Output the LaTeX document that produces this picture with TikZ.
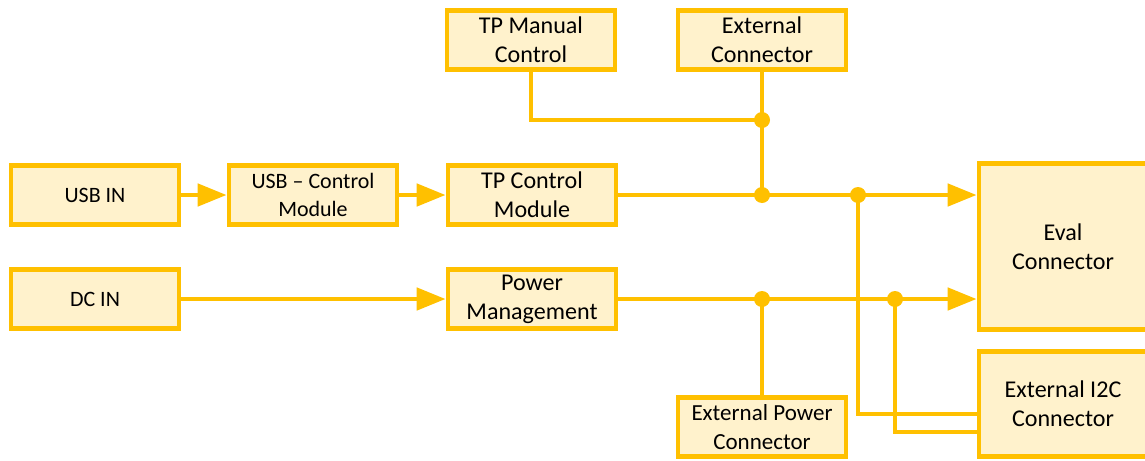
\documentclass[tikz,border=0pt]{standalone}
\usepackage{fontspec}
\setmainfont{Carlito}
\usetikzlibrary{arrows.meta}
\definecolor{gold}{HTML}{FFC000}
\definecolor{cream}{HTML}{FFF2CC}
\begin{document}
\begin{tikzpicture}[x=0.02cm,y=-0.02cm,
  block/.style={draw=gold,fill=cream,line width=2.7pt,align=center,
    minimum width=3.36cm,minimum height=1.18cm,inner sep=1pt,
    font=\fontsize{12.5}{16.4}\selectfont},
  wide/.style={block,font=\fontsize{13.7}{16.4}\selectfont},
  bus/.style={draw=gold,line width=2.7pt},
  feed/.style={bus,-{Triangle[length=0.58cm,width=0.44cm]}},
  dot/.style={fill=gold,circle,inner sep=0pt,minimum size=0.32cm}]
  \useasboundingbox (0,0) rectangle (1145,460);
  \node[block] (usbin) at (95,195) {USB IN};
  \node[block] (usbctrl) at (313,195) {USB -- Control\\Module};
  \node[wide] (tpctrl) at (532,195) {TP Control\\Module};
  \node[block] (dcin) at (95,299) {DC IN};
  \node[wide] (power) at (532,299) {Power\\Management};
  \node[wide] (manual) at (531,40) {TP Manual\\Control};
  \node[wide] (extconn) at (762,40) {External\\Connector};
  \node[wide,minimum height=3.32cm] (eval) at (1063,246.5) {Eval\\Connector};
  \node[wide,minimum height=2.1cm] (i2c) at (1063,404) {External I2C\\Connector};
  \node[block,font=\fontsize{13.1}{16.4}\selectfont] (extpower) at (762,427) {External Power\\Connector};
  \coordinate (tapA) at (762,120);
  \coordinate (tapB) at (762,195);
  \coordinate (tapC) at (858,195);
  \coordinate (tapD) at (762,299);
  \coordinate (tapE) at (895,299);
  \draw[feed] (usbin) -- (usbctrl);
  \draw[feed] (usbctrl) -- (tpctrl);
  \draw[feed] (dcin) -- (power);
  \draw[feed] (tpctrl) -- (eval.west |- tpctrl);
  \draw[feed] (power) -- (eval.west |- power);
  \draw[bus] (manual.south) |- (tapA);
  \draw[bus] (extconn.south) -- (tapB);
  \draw[bus] (tapC) |- ([yshift=-0.2cm]i2c.west);
  \draw[bus] (tapE) |- ([yshift=-0.56cm]i2c.west);
  \draw[bus] (tapD) -- (extpower.north);
  \foreach \tap in {tapA,tapB,tapC,tapD,tapE}
    \node[dot] at (\tap) {};
\end{tikzpicture}
\end{document}
